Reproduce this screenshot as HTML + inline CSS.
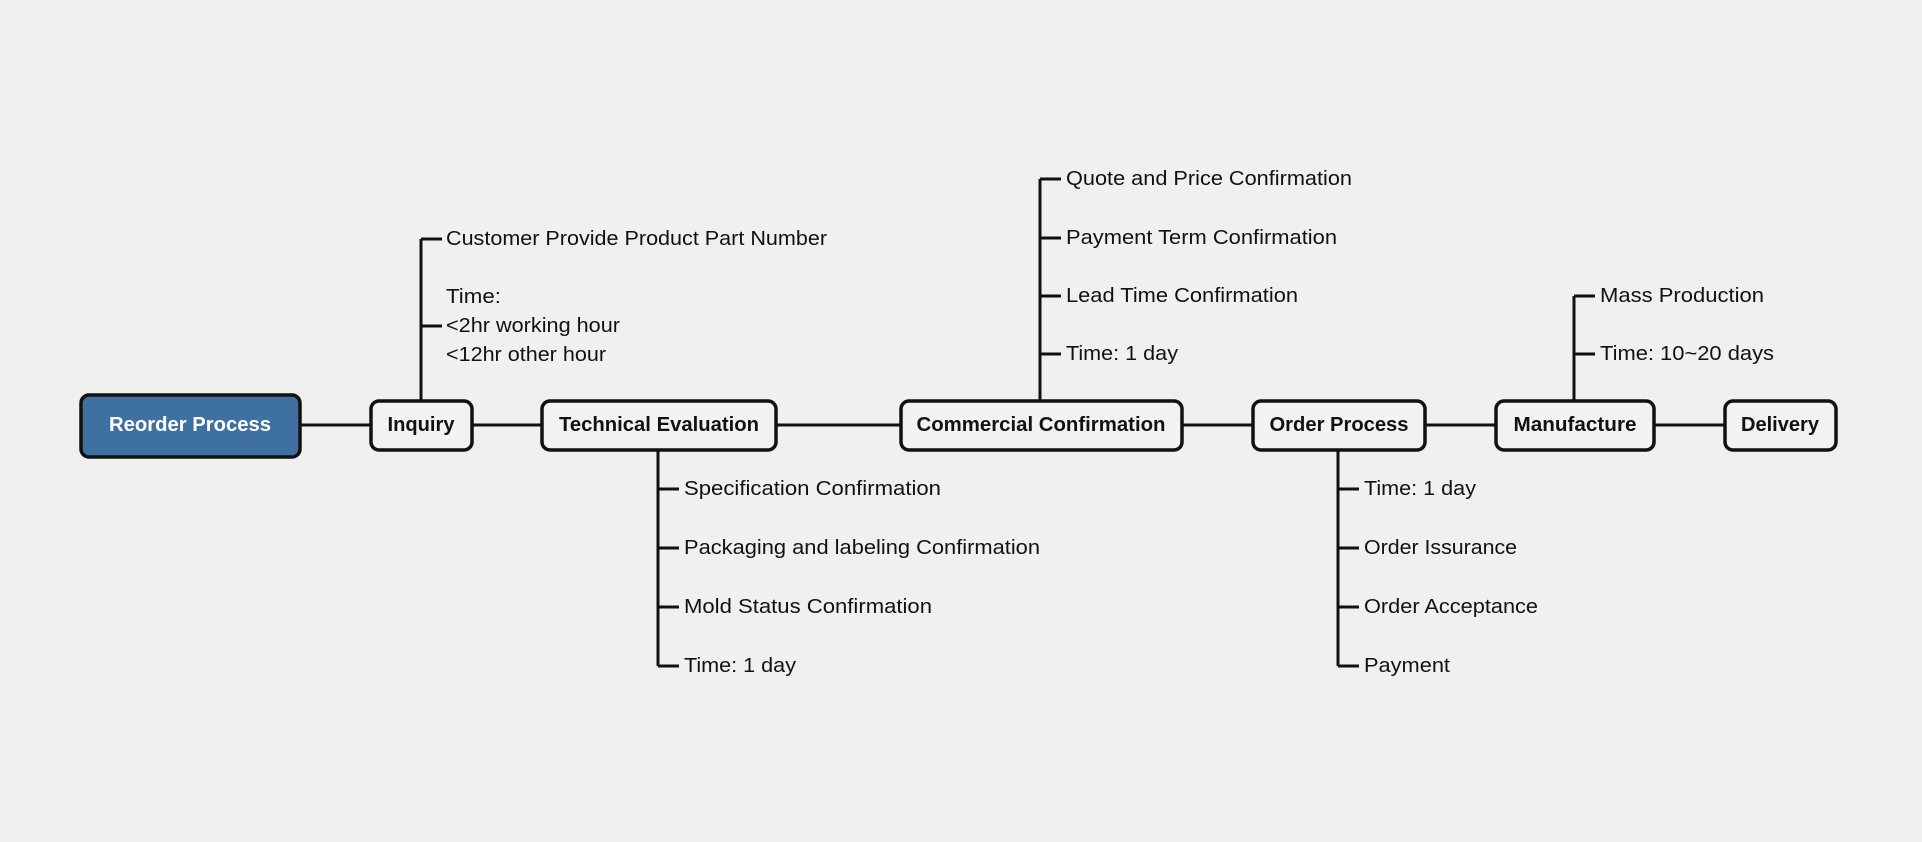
<!DOCTYPE html>
<html><head><meta charset="utf-8"><style>
html,body{margin:0;padding:0;background:#f0f0f0;}
svg{display:block;}
text{font-family:"Liberation Sans",sans-serif;font-size:20px;fill:#111;dominant-baseline:central;}
.b{font-weight:bold;}
</style></head><body>
<svg width="1922" height="842" viewBox="0 0 1922 842" xmlns="http://www.w3.org/2000/svg">
<rect width="1922" height="842" fill="#f0f0f0"/>
<g stroke="#111" stroke-width="3" fill="none">
<line x1="301" y1="425" x2="1724" y2="425"/>
<!-- inquiry -->
<line x1="421" y1="239" x2="421" y2="401"/>
<line x1="421" y1="239" x2="442" y2="239"/>
<line x1="421" y1="326" x2="442" y2="326"/>
<!-- commercial -->
<line x1="1040" y1="179" x2="1040" y2="401"/>
<line x1="1040" y1="179" x2="1061" y2="179"/>
<line x1="1040" y1="238" x2="1061" y2="238"/>
<line x1="1040" y1="296" x2="1061" y2="296"/>
<line x1="1040" y1="354" x2="1061" y2="354"/>
<!-- tech eval -->
<line x1="658" y1="449" x2="658" y2="666"/>
<line x1="658" y1="489" x2="679" y2="489"/>
<line x1="658" y1="548" x2="679" y2="548"/>
<line x1="658" y1="607" x2="679" y2="607"/>
<line x1="658" y1="666" x2="679" y2="666"/>
<!-- order -->
<line x1="1338" y1="449" x2="1338" y2="666"/>
<line x1="1338" y1="489" x2="1359" y2="489"/>
<line x1="1338" y1="548" x2="1359" y2="548"/>
<line x1="1338" y1="607" x2="1359" y2="607"/>
<line x1="1338" y1="666" x2="1359" y2="666"/>
<!-- manufacture -->
<line x1="1574" y1="296" x2="1574" y2="401"/>
<line x1="1574" y1="296" x2="1595" y2="296"/>
<line x1="1574" y1="354" x2="1595" y2="354"/>
</g>
<g stroke="#111" stroke-width="3.5">
<rect x="81" y="395" width="219" height="62" rx="8" fill="#3e70a1"/>
<rect x="371" y="401" width="101" height="49" rx="8" fill="#f2f2f2"/>
<rect x="542" y="401" width="234" height="49" rx="8" fill="#f2f2f2"/>
<rect x="901" y="401" width="281" height="49" rx="8" fill="#f2f2f2"/>
<rect x="1253" y="401" width="172" height="49" rx="8" fill="#f2f2f2"/>
<rect x="1496" y="401" width="158" height="49" rx="8" fill="#f2f2f2"/>
<rect x="1725" y="401" width="111" height="49" rx="8" fill="#f2f2f2"/>
</g>
<g class="b" text-anchor="middle">
<text class="b" x="190" y="425" style="fill:#fff" textLength="162" lengthAdjust="spacingAndGlyphs">Reorder Process</text>
<text class="b" x="421" y="425" textLength="67" lengthAdjust="spacingAndGlyphs">Inquiry</text>
<text class="b" x="659" y="425" textLength="200" lengthAdjust="spacingAndGlyphs">Technical Evaluation</text>
<text class="b" x="1041" y="425" textLength="249" lengthAdjust="spacingAndGlyphs">Commercial Confirmation</text>
<text class="b" x="1339" y="425" textLength="139" lengthAdjust="spacingAndGlyphs">Order Process</text>
<text class="b" x="1575" y="425" textLength="123" lengthAdjust="spacingAndGlyphs">Manufacture</text>
<text class="b" x="1780" y="425" textLength="78" lengthAdjust="spacingAndGlyphs">Delivery</text>
</g>
<g>
<text x="446" y="239" textLength="381" lengthAdjust="spacingAndGlyphs">Customer Provide Product Part Number</text>
<text x="446" y="297" textLength="55" lengthAdjust="spacingAndGlyphs">Time:</text>
<text x="446" y="326" textLength="174" lengthAdjust="spacingAndGlyphs">&lt;2hr working hour</text>
<text x="446" y="355" textLength="160" lengthAdjust="spacingAndGlyphs">&lt;12hr other hour</text>

<text x="1066" y="179" textLength="286" lengthAdjust="spacingAndGlyphs">Quote and Price Confirmation</text>
<text x="1066" y="238" textLength="271" lengthAdjust="spacingAndGlyphs">Payment Term Confirmation</text>
<text x="1066" y="296" textLength="232" lengthAdjust="spacingAndGlyphs">Lead Time Confirmation</text>
<text x="1066" y="354" textLength="112" lengthAdjust="spacingAndGlyphs">Time: 1 day</text>

<text x="684" y="489" textLength="257" lengthAdjust="spacingAndGlyphs">Specification Confirmation</text>
<text x="684" y="548" textLength="356" lengthAdjust="spacingAndGlyphs">Packaging and labeling Confirmation</text>
<text x="684" y="607" textLength="248" lengthAdjust="spacingAndGlyphs">Mold Status Confirmation</text>
<text x="684" y="666" textLength="112" lengthAdjust="spacingAndGlyphs">Time: 1 day</text>

<text x="1364" y="489" textLength="112" lengthAdjust="spacingAndGlyphs">Time: 1 day</text>
<text x="1364" y="548" textLength="153" lengthAdjust="spacingAndGlyphs">Order Issurance</text>
<text x="1364" y="607" textLength="174" lengthAdjust="spacingAndGlyphs">Order Acceptance</text>
<text x="1364" y="666" textLength="86" lengthAdjust="spacingAndGlyphs">Payment</text>

<text x="1600" y="296" textLength="164" lengthAdjust="spacingAndGlyphs">Mass Production</text>
<text x="1600" y="354" textLength="174" lengthAdjust="spacingAndGlyphs">Time: 10~20 days</text>
</g>
</svg>
</body></html>
